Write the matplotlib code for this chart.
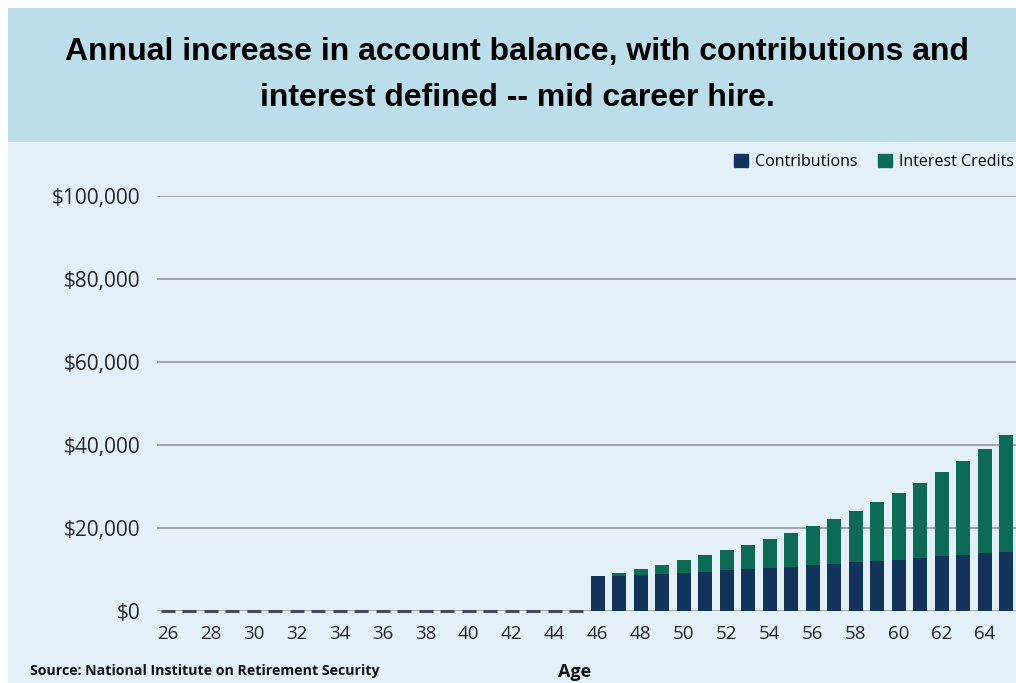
import numpy as np
import matplotlib.pyplot as plt
from matplotlib.patches import Rectangle, Patch
from matplotlib.ticker import FuncFormatter

# Ages and yearly increase split (in dollars)
ages = list(range(26, 66))
contributions = [0] * 20 + [8400, 8400, 8600, 8900, 9200, 9400, 9800, 10100, 10300, 10600,
                            11000, 11400, 11700, 12000, 12300, 12700, 13200, 13500, 13900, 14300]
totals = [0] * 20 + [8400, 9200, 10200, 11100, 12200, 13400, 14600, 15900, 17400, 18800,
                     20500, 22200, 24200, 26200, 28500, 30900, 33400, 36200, 39000, 42300]
interest = [t - c for t, c in zip(totals, contributions)]
yticks = [0, 20000, 40000, 60000, 80000, 100000]
xticks = list(range(26, 66, 2))

navy = '#12345a'
green = '#0d6b55'
bg = '#e3f0f8'
band = '#bcdeea'

fig = plt.figure(figsize=(10.16, 6.83), dpi=100)
fig.patch.set_facecolor('white')

# backgrounds: light chart area and title band
fig.patches.append(Rectangle((8 / 1016, 0), 1, 1 - 8 / 683, transform=fig.transFigure,
                             facecolor=bg, edgecolor='none', zorder=-10))
fig.patches.append(Rectangle((8 / 1016, 1 - 142 / 683), 1, 134 / 683, transform=fig.transFigure,
                             facecolor=band, edgecolor='none', zorder=-10))

ax = fig.add_axes([157 / 1016, 1 - 611 / 683, 1 - 157 / 1016, (611 - 196) / 683])
ax.set_facecolor('none')

x = np.array(ages)
c = np.array(contributions)
i = np.array(interest)
w = 0.65
ax.bar(x, c, width=w, color=navy, zorder=3, label='Contributions')
ax.bar(x, i, width=w, bottom=c, color=green, zorder=3, label='Interest Credits')

# zero years show as short dark dashes on the baseline
zero = (c + i) == 0
ax.hlines(np.zeros(zero.sum()), x[zero] - w / 2, x[zero] + w / 2, color='#484d54', lw=2.2,
          zorder=4, clip_on=False)

ax.set_xlim(25.5, 65.45)
ax.set_ylim(0, 100000)
ax.set_yticks(yticks)
ax.yaxis.set_major_formatter(FuncFormatter(lambda v, p: f'${v:,.0f}'))
ax.set_xticks(xticks)
ax.grid(axis='y', color='#9a9ea3', lw=1.3, zorder=1)
ax.tick_params(axis='y', length=0, pad=12, labelsize=15, labelcolor='#262626')
ax.tick_params(axis='x', length=0, pad=10, labelsize=13.5, labelcolor='#262626')
for lab in ax.get_xticklabels() + ax.get_yticklabels():
    lab.set_family('Open Sans')
for s in ax.spines.values():
    s.set_visible(False)

handles = [Patch(color=navy, label='Contributions'), Patch(color=green, label='Interest Credits')]
fig.legend(handles=handles, loc='center right', bbox_to_anchor=(1.012, 1 - 162 / 683), ncol=2,
           frameon=False, handlelength=0.9, handleheight=0.9, handletextpad=0.4, columnspacing=1.3,
           prop={'family': 'Open Sans', 'size': 11.5})

title_font = ['Liberation Sans', 'DejaVu Sans']
fig.text(517 / 1016, 1 - 52 / 683, 'Annual increase in account balance, with contributions and',
         ha='center', va='center', fontsize=23, fontweight='bold', family=title_font, color='black')
fig.text(517 / 1016, 1 - 98 / 683, 'interest defined -- mid career hire.',
         ha='center', va='center', fontsize=23, fontweight='bold', family=title_font, color='black')

fig.text(30 / 1016, 1 - 671 / 683, 'Source: National Institute on Retirement Security',
         ha='left', va='center', fontsize=10.2, fontweight='bold', family='Open Sans', color='#111111')
fig.text(575 / 1016, 1 - 672 / 683, 'Age', ha='center', va='center', fontsize=13,
         fontweight='bold', family='Open Sans', color='#111111')

fig.savefig('out.png', dpi=100, facecolor=fig.get_facecolor())
